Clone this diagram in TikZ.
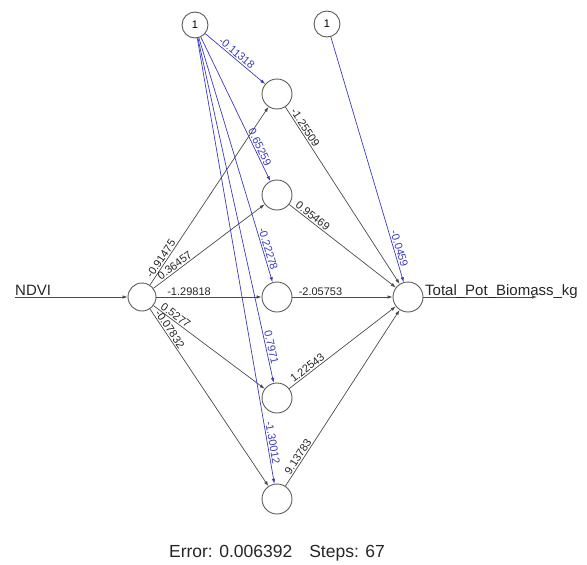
\documentclass[tikz,border=0pt]{standalone}
\usepackage{fontspec}
\setmainfont{Liberation Sans}
\usetikzlibrary{arrows.meta}
\definecolor{edgegray}{RGB}{75,75,75}
\definecolor{biasblue}{RGB}{60,60,190}
\definecolor{circgray}{RGB}{90,90,90}
\begin{document}
\begin{tikzpicture}[x=1pt,y=-1pt,
  neuron/.style={circle,draw=circgray,line width=0.9pt,minimum size=30pt,inner sep=0pt},
  biasnode/.style={circle,draw=circgray,line width=0.9pt,minimum size=26pt,inner sep=0pt,font=\fontsize{11}{11}\selectfont},
  syn/.style={draw=edgegray,line width=0.7pt,-{Latex[length=5pt,width=3.5pt]}},
  bsyn/.style={draw=biasblue,line width=0.7pt,-{Latex[length=5pt,width=3.5pt]}},
  wlab/.style={sloped,above,inner sep=1.2pt,font=\fontsize{11}{11}\selectfont,text=black!85},
  blab/.style={wlab,text=biasblue},
  iolab/.style={anchor=base west,inner sep=0pt,font=\fontsize{15}{15}\selectfont,text=black!85}
]
\useasboundingbox (0,0) rectangle (587,565);
% nodes
\node[biasnode] (b1) at (195,25) {1};
\node[biasnode] (b2) at (327,24) {1};
\node[neuron,minimum size=28pt] (i) at (142,297) {};
\node[neuron] (h1) at (277,94) {};
\node[neuron] (h2) at (277,195) {};
\node[neuron] (h3) at (277,297) {};
\node[neuron] (h4) at (277,398) {};
\node[neuron] (h5) at (277,499) {};
\node[neuron] (o) at (408,297) {};
\coordinate (inL) at (15,297);
\coordinate (outR) at (537,297);
% entry and exit
\draw[syn] (inL) -- (i);
\node[iolab] (ndvi) at (15,295) {NDVI};
\draw[syn] (o) -- (outR);
\node[iolab] (outlab) at (425,295) {Total\_Pot\_Biomass\_kg};
% input -> hidden
\draw[syn] (i) -- node[wlab,pos=0.13]{-0.91475} (h1);
\draw[syn] (i) -- node[wlab,pos=0.22]{0.36457} (h2);
\draw[syn] (i) -- node[wlab,pos=0.31]{-1.29818} (h3);
\draw[syn] (i) -- node[wlab,pos=0.17]{0.5277} (h4);
\draw[syn] (i) -- node[wlab,pos=0.13]{-0.07832} (h5);
% hidden -> output
\draw[syn] (h1) -- node[wlab,pos=0.134]{-1.25509} (o);
\draw[syn] (h2) -- node[wlab,pos=0.19]{0.95469} (o);
\draw[syn] (h3) -- node[wlab,pos=0.28]{-2.05753} (o);
\draw[syn] (h4) -- node[wlab,pos=0.20]{1.22543} (o);
\draw[syn] (h5) -- node[wlab,pos=0.15]{9.13783} (o);
% bias -> hidden
\draw[bsyn] (b1) -- node[blab,pos=0.47]{-0.11318} (h1);
\draw[bsyn] (b1) -- node[blab,pos=0.78]{0.65259} (h2);
\draw[bsyn] (b1) -- node[blab,pos=0.87]{-0.22278} (h3);
\draw[bsyn] (b1) -- node[blab,pos=0.90]{0.7971} (h4);
\draw[bsyn] (b1) -- node[blab,pos=0.91]{-1.30012} (h5);
% bias -> output
\draw[bsyn] (b2) -- node[blab,pos=0.87]{-0.0459} (o);
% info
\node[font=\fontsize{17.5}{17.5}\selectfont,text=black!85,inner sep=0pt] (info) at (277,553) {Error: 0.006392\hspace{17pt}Steps: 67};
\end{tikzpicture}
\end{document}
